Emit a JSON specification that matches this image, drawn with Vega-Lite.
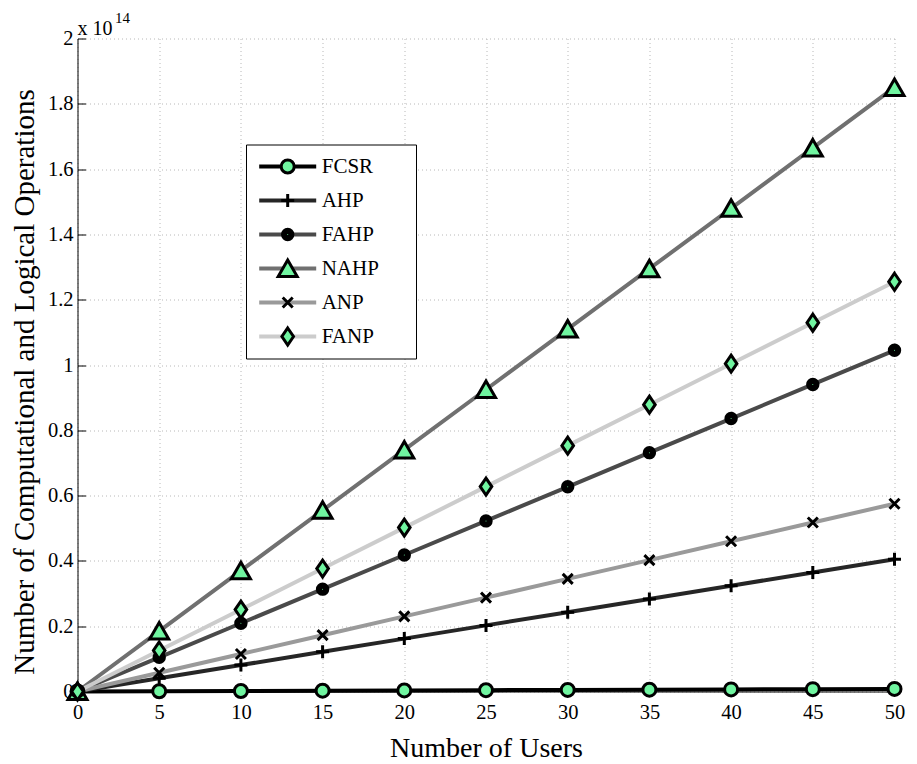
{
  "$schema": "https://vega.github.io/schema/vega-lite/v6.json",
  "width": 817,
  "height": 653,
  "autosize": {"type": "none"},
  "padding": {"left": 77.5, "top": 38.5, "right": 22.5, "bottom": 72.5},
  "background": "white",
  "config": {"view": {"stroke": null}, "font": "Liberation Serif"},
  "title": {"text": "\u200b\u00a0\u00a0\u00a0\u00a0\u00a0\u00a0\u00a0\u00a0\u00a0\u00a014", "subtitle": "x 10", "anchor": "start", "frame": "group", "offset": 6.5, "dy": 29, "baseline": "alphabetic",
    "fontSize": 15, "font": "Liberation Serif", "fontWeight": "normal", "color": "black",
    "subtitleFontSize": 20, "subtitleFont": "Liberation Serif", "subtitleColor": "black", "subtitlePadding": -3},
  "data": {"values": [
    {"x":0,"y":0,"s":"FCSR","o":1},{"x":5,"y":0.0008,"s":"FCSR","o":1},{"x":10,"y":0.0016,"s":"FCSR","o":1},{"x":15,"y":0.0024,"s":"FCSR","o":1},{"x":20,"y":0.0032,"s":"FCSR","o":1},{"x":25,"y":0.004,"s":"FCSR","o":1},{"x":30,"y":0.0048,"s":"FCSR","o":1},{"x":35,"y":0.0056,"s":"FCSR","o":1},{"x":40,"y":0.0064,"s":"FCSR","o":1},{"x":45,"y":0.0072,"s":"FCSR","o":1},{"x":50,"y":0.008,"s":"FCSR","o":1},
    {"x":0,"y":0,"s":"AHP","o":2},{"x":5,"y":0.0405,"s":"AHP","o":2},{"x":10,"y":0.081,"s":"AHP","o":2},{"x":15,"y":0.1215,"s":"AHP","o":2},{"x":20,"y":0.162,"s":"AHP","o":2},{"x":25,"y":0.2025,"s":"AHP","o":2},{"x":30,"y":0.243,"s":"AHP","o":2},{"x":35,"y":0.2835,"s":"AHP","o":2},{"x":40,"y":0.324,"s":"AHP","o":2},{"x":45,"y":0.3645,"s":"AHP","o":2},{"x":50,"y":0.405,"s":"AHP","o":2},
    {"x":0,"y":0,"s":"FAHP","o":3},{"x":5,"y":0.1045,"s":"FAHP","o":3},{"x":10,"y":0.209,"s":"FAHP","o":3},{"x":15,"y":0.3135,"s":"FAHP","o":3},{"x":20,"y":0.418,"s":"FAHP","o":3},{"x":25,"y":0.5225,"s":"FAHP","o":3},{"x":30,"y":0.627,"s":"FAHP","o":3},{"x":35,"y":0.7315,"s":"FAHP","o":3},{"x":40,"y":0.836,"s":"FAHP","o":3},{"x":45,"y":0.9405,"s":"FAHP","o":3},{"x":50,"y":1.045,"s":"FAHP","o":3},
    {"x":0,"y":0,"s":"NAHP","o":4},{"x":5,"y":0.185,"s":"NAHP","o":4},{"x":10,"y":0.37,"s":"NAHP","o":4},{"x":15,"y":0.555,"s":"NAHP","o":4},{"x":20,"y":0.74,"s":"NAHP","o":4},{"x":25,"y":0.925,"s":"NAHP","o":4},{"x":30,"y":1.11,"s":"NAHP","o":4},{"x":35,"y":1.295,"s":"NAHP","o":4},{"x":40,"y":1.48,"s":"NAHP","o":4},{"x":45,"y":1.665,"s":"NAHP","o":4},{"x":50,"y":1.85,"s":"NAHP","o":4},
    {"x":0,"y":0,"s":"ANP","o":5},{"x":5,"y":0.0575,"s":"ANP","o":5},{"x":10,"y":0.115,"s":"ANP","o":5},{"x":15,"y":0.1725,"s":"ANP","o":5},{"x":20,"y":0.23,"s":"ANP","o":5},{"x":25,"y":0.2875,"s":"ANP","o":5},{"x":30,"y":0.345,"s":"ANP","o":5},{"x":35,"y":0.4025,"s":"ANP","o":5},{"x":40,"y":0.46,"s":"ANP","o":5},{"x":45,"y":0.5175,"s":"ANP","o":5},{"x":50,"y":0.575,"s":"ANP","o":5},
    {"x":0,"y":0,"s":"FANP","o":6},{"x":5,"y":0.1255,"s":"FANP","o":6},{"x":10,"y":0.251,"s":"FANP","o":6},{"x":15,"y":0.3765,"s":"FANP","o":6},{"x":20,"y":0.502,"s":"FANP","o":6},{"x":25,"y":0.6275,"s":"FANP","o":6},{"x":30,"y":0.753,"s":"FANP","o":6},{"x":35,"y":0.8785,"s":"FANP","o":6},{"x":40,"y":1.004,"s":"FANP","o":6},{"x":45,"y":1.1295,"s":"FANP","o":6},{"x":50,"y":1.255,"s":"FANP","o":6}
  ]},
  "encoding": {
    "x": {"field": "x", "type": "quantitative", "scale": {"domain": [0, 50], "nice": false},
      "axis": {"title": "Number of Users", "values": [0,5,10,15,20,25,30,35,40,45,50], "format": "d",
        "grid": true, "gridColor": "#b8b8b8", "gridDash": [1, 3], "gridWidth": 1,
        "tickSize": -8, "tickColor": "black", "tickWidth": 1, "domainColor": "black", "domainWidth": 1,
        "labelFont": "Liberation Serif", "labelFontSize": 20.5, "labelColor": "black", "labelPadding": 34.5,
        "labelBaseline": "alphabetic", "labelFlush": false, "labelOverlap": false,
        "titleFont": "Liberation Serif", "titleFontSize": 28, "titleFontWeight": "normal", "titleColor": "black",
        "titleBaseline": "alphabetic", "titleY": 65}},
    "y": {"field": "y", "type": "quantitative", "scale": {"domain": [0, 2], "nice": false},
      "axis": {"title": "Number of Computational and Logical Operations", "values": [0,0.2,0.4,0.6,0.8,1,1.2,1.4,1.6,1.8,2], "format": "~g",
        "grid": true, "gridColor": "#b8b8b8", "gridDash": [1, 3], "gridWidth": 1,
        "tickSize": -8, "tickColor": "black", "tickWidth": 1, "domainColor": "black", "domainWidth": 1,
        "labelFont": "Liberation Serif", "labelFontSize": 20.5, "labelColor": "black", "labelPadding": 12.5,
        "labelBaseline": "middle", "labelFlush": false, "labelOverlap": false,
        "titleFont": "Liberation Serif", "titleFontSize": 29, "titleFontWeight": "normal", "titleColor": "black",
        "titleBaseline": "alphabetic", "titleX": -44, "titleY": 343}}
  },
  "layer": [
    {
      "mark": {"type": "line", "strokeWidth": 4, "clip": false},
      "encoding": {
        "stroke": {"field": "s", "type": "nominal",
          "scale": {"domain": ["FCSR","AHP","FAHP","NAHP","ANP","FANP"], "range": ["#000000","#262626","#4a4a4a","#707070","#9a9a9a","#cccccc"]},
          "legend": {"orient": "none", "legendX": 168.5, "legendY": 106, "title": null, "padding": 5,
            "clipHeight": 34, "rowPadding": 0, "symbolType": "stroke", "symbolSize": 3249, "symbolStrokeWidth": 4,
            "symbolOffset": 6.2, "labelOffset": 3.5, "labelFont": "Liberation Serif", "labelFontSize": 21, "labelColor": "black",
            "labelLimit": 0, "labelExpr": "datum.label + '\u00a0\u00a0\u00a0\u00a0\u00a0\u00a0\u200b'",
            "strokeColor": "black", "fillColor": "white", "zindex": 1}}
      }
    },
    {
      "mark": {"type": "point", "filled": true, "opacity": 1, "fill": "#70f5a0", "stroke": "black", "strokeWidth": 3, "size": 400, "clip": false},
      "encoding": {
        "shape": {"field": "s", "type": "nominal", "sort": {"field": "o", "op": "min"},
          "scale": {"range": [
            "M0.65,0A0.65,0.65,0,1,1,-0.65,0A0.65,0.65,0,1,1,0.65,0Z",
            "M-0.65,0L0.65,0M0,-0.65L0,0.65",
            "M0.52,0A0.52,0.52,0,1,1,-0.52,0A0.52,0.52,0,1,1,0.52,0ZM0.38,0A0.38,0.38,0,1,1,-0.38,0A0.38,0.38,0,1,1,0.38,0ZM0.24,0A0.24,0.24,0,1,1,-0.24,0A0.24,0.24,0,1,1,0.24,0ZM0.1,0A0.1,0.1,0,1,1,-0.1,0A0.1,0.1,0,1,1,0.1,0Z",
            "M0,-0.85L0.95,0.8L-0.95,0.8Z",
            "M-0.5,-0.5L0.5,0.5M-0.5,0.5L0.5,-0.5",
            "M0,-0.85L0.58,0L0,0.85L-0.58,0Z"]},
          "legend": {"orient": "none", "legendX": 168.5, "legendY": 106, "title": null, "padding": 5,
            "clipHeight": 34, "rowPadding": 0, "symbolSize": 400, "symbolStrokeWidth": 3,
            "symbolOffset": 25.2, "labelExpr": "''", "labelFontSize": 21, "labelFont": "Liberation Serif", "zindex": 2,
            "encode": {"symbols": {"stroke": {"value": "black"}, "fill": {"value": "#70f5a0"}, "strokeWidth": {"value": 3}, "opacity": {"value": 1}}}}}
      }
    }
  ]
}
